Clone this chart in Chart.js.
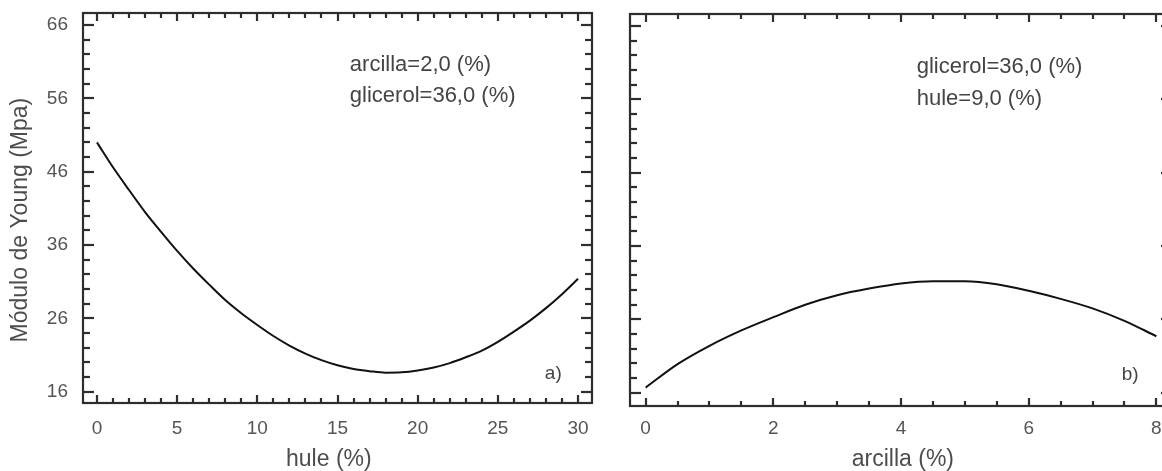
<!DOCTYPE html>
<html lang="es">
<head>
<meta charset="UTF-8">
<title>Módulo de Young</title>
<script src="https://cdn.jsdelivr.net/npm/chart.js"></script>
<style>
  html, body { margin: 0; padding: 0; background: #fff; overflow: hidden; }
  #wrap { position: relative; width: 1162px; height: 471px; overflow: hidden; }
  #chartA { position: absolute; left: 0; top: 0; width: 600px; height: 471px; }
  #chartB { position: absolute; left: 600px; top: 0; width: 574px; height: 471px; }
</style>
</head>
<body>
<div id="wrap">
  <canvas id="chartA" width="600" height="471"></canvas>
  <canvas id="chartB" width="574" height="471"></canvas>
</div>
<script>
// panel a): modulo vs hule
const hule = [0, 1, 2, 3, 4, 5, 6, 7, 8, 9, 10, 11, 12, 13, 14, 15,
              16, 17, 18, 19, 20, 21, 22, 23, 24, 25, 26, 27, 28, 29, 30];
const moduloA = [50.0, 46.6, 43.5, 40.5, 37.8, 35.2, 32.8, 30.6, 28.5, 26.7, 25.1,
                 23.6, 22.3, 21.2, 20.3, 19.6, 19.1, 18.8, 18.6, 18.65, 18.9,
                 19.3, 19.9, 20.7, 21.6, 22.8, 24.2, 25.7, 27.4, 29.3, 31.4];

// panel b): modulo vs arcilla
const arcilla = [0, 0.5, 1, 1.5, 2, 2.5, 3, 3.5, 4, 4.5, 5, 5.5, 6, 6.5, 7, 7.5, 8];
const moduloB = [16.7, 19.9, 22.4, 24.5, 26.3, 28.0, 29.3, 30.2, 30.9, 31.2, 31.2,
                 30.8, 29.9, 28.8, 27.5, 25.8, 23.7];

// tick labels
const ticksHule = [0, 5, 10, 15, 20, 25, 30];
const ticksArcilla = [0, 2, 4, 6, 8];
const ticksModulo = [16, 26, 36, 46, 56, 66];

const notasA = ['arcilla=2,0 (%)', 'glicerol=36,0 (%)'];
const notasB = ['glicerol=36,0 (%)', 'hule=9,0 (%)'];
const tituloY = 'Módulo de Young (Mpa)';

const FONT = '"Liberation Sans", Arial, Helvetica, sans-serif';
Chart.defaults.font.family = FONT;
Chart.defaults.color = '#4d4d4d';

function isMajor(v, major, base) {
    const r = (v - base) / major;
    return Math.abs(r - Math.round(r)) < 1e-6;
}

function seg(ctx, x1, y1, x2, y2) {
    ctx.beginPath();
    ctx.moveTo(x1, y1);
    ctx.lineTo(x2, y2);
    ctx.stroke();
}

function noPad(s) {
    s.paddingTop = 0;
    s.paddingBottom = 0;
    s.paddingLeft = 0;
    s.paddingRight = 0;
}

// frame with inward ticks on all four sides, axis titles and the text notes
const marco = {
    id: 'marco',
    afterDatasetsDraw(chart, args, o) {
        const { ctx, chartArea: a, scales: { x, y } } = chart;
        ctx.save();
        ctx.strokeStyle = '#2e2e2e';
        ctx.lineWidth = 2.2;
        ctx.strokeRect(a.left, a.top, a.right - a.left, a.bottom - a.top);

        for (let i = Math.ceil(x.min / o.xMinor); i * o.xMinor <= x.max + 1e-9; i++) {
            const v = i * o.xMinor;
            const px = Math.round(x.getPixelForValue(v));
            const len = isMajor(v, o.xMajor, 0) ? 8 : 5;
            seg(ctx, px, a.bottom, px, a.bottom - len);
            seg(ctx, px, a.top, px, a.top + len);
        }
        for (let i = Math.ceil(y.min / 2); i * 2 <= y.max + 1e-9; i++) {
            const v = i * 2;
            const py = Math.round(y.getPixelForValue(v));
            const len = isMajor(v, 10, 16) ? 11 : 7;
            seg(ctx, a.left, py, a.left + len, py);
            seg(ctx, a.right, py, a.right - len, py);
        }

        ctx.fillStyle = '#444';
        ctx.textBaseline = 'alphabetic';
        ctx.textAlign = 'left';
        ctx.font = '22px ' + FONT;
        const nx = x.getPixelForValue(o.noteAt[0]);
        const ny = y.getPixelForValue(o.noteAt[1]);
        o.notes.forEach((t, k) => ctx.fillText(t, nx, ny + k * o.noteGap));

        ctx.font = '19px ' + FONT;
        ctx.fillText(o.label, x.getPixelForValue(o.labelAt[0]), y.getPixelForValue(o.labelAt[1]));

        // axis titles
        ctx.fillStyle = '#4d4d4d';
        ctx.font = '23px ' + FONT;
        ctx.textAlign = 'center';
        ctx.textBaseline = 'middle';
        ctx.fillText(o.xTitle, x.getPixelForValue(o.xTitleAt), chart.height - 11);
        if (o.yTitle) {
            ctx.translate(21, y.getPixelForValue(o.yTitleAt));
            ctx.rotate(-Math.PI / 2);
            ctx.fillText(o.yTitle, 0, 0);
        }
        ctx.restore();
    }
};

function makeChart(id, xs, ys, xTicks, xRange, yRange, opts) {
    return new Chart(document.getElementById(id), {
        type: 'scatter',
        data: {
            datasets: [{
                data: xs.map((v, i) => ({ x: v, y: ys[i] })),
                showLine: true,
                borderColor: '#111',
                borderWidth: 2,
                pointRadius: 0,
                cubicInterpolationMode: 'monotone'
            }]
        },
        options: {
            responsive: false,
            animation: false,
            events: [],
            layout: { padding: opts.padding },
            plugins: {
                legend: { display: false },
                tooltip: { enabled: false },
                marco: opts.marco
            },
            scales: {
                x: {
                    type: 'linear',
                    min: xRange[0],
                    max: xRange[1],
                    afterBuildTicks: s => { s.ticks = xTicks.map(v => ({ value: v })); },
                    afterFit: s => { s.height = opts.xHeight; noPad(s); },
                    grid: { display: false, drawTicks: false },
                    border: { display: false },
                    ticks: { padding: opts.xPad, font: { size: 19 }, color: '#555' }
                },
                y: {
                    type: 'linear',
                    min: yRange[0],
                    max: yRange[1],
                    afterBuildTicks: s => { s.ticks = ticksModulo.map(v => ({ value: v })); },
                    afterFit: s => { s.width = opts.yWidth; noPad(s); },
                    grid: { display: false, drawTicks: false },
                    border: { display: false },
                    ticks: { display: opts.yLabels, padding: 15, font: { size: 19 }, color: '#555' }
                }
            }
        },
        plugins: [marco]
    });
}

makeChart('chartA', hule, moduloA, ticksHule, [-0.87, 30.87], [14.46, 67.64], {
    padding: { left: 0, right: 8, top: 13, bottom: 0 },
    xHeight: 68,
    xPad: 14,
    yWidth: 83,
    yLabels: true,
    marco: {
        xMinor: 1, xMajor: 5,
        notes: notasA, noteAt: [15.77, 59.77], noteGap: 31,
        label: 'a)', labelAt: [27.93, 17.73],
        xTitle: 'hule (%)', xTitleAt: 14.46,
        yTitle: tituloY, yTitleAt: 39.4
    }
});

makeChart('chartB', arcilla, moduloB, ticksArcilla, [-0.245, 8.245], [14.19, 67.64], {
    padding: { left: 0, right: 2, top: 14, bottom: 0 },
    xHeight: 65,
    xPad: 11,
    yWidth: 30,
    yLabels: false,
    marco: {
        xMinor: 0.5, xMajor: 2,
        notes: notasB, noteAt: [4.246, 59.63], noteGap: 32,
        label: 'b)', labelAt: [7.457, 17.73],
        xTitle: 'arcilla (%)', xTitleAt: 4.03
    }
});
</script>
</body>
</html>
